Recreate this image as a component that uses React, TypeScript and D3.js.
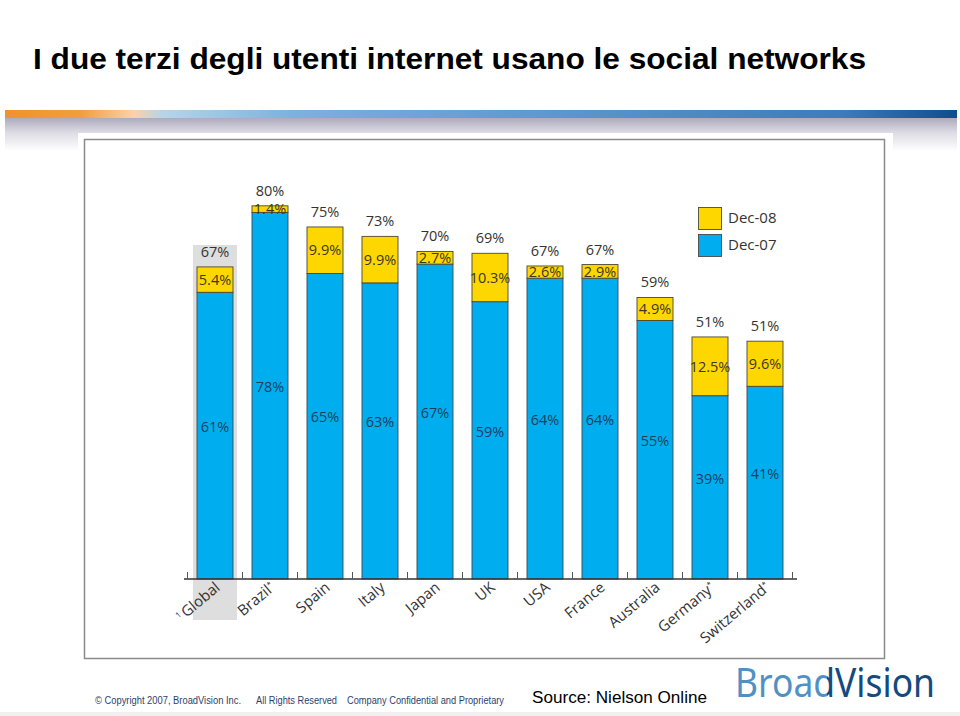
import React from "react";
import * as d3 from "d3";

const categories = ["Global", "Brazil", "Spain", "Italy", "Japan", "UK", "USA", "France", "Australia", "Germany", "Switzerland"];
const categoryLabels = ["Global", "Brazil", "Spain", "Italy", "Japan", "UK", "USA", "France", "Australia", "Germany", "Switzerland"];
const starred = [false, true, false, false, false, false, false, false, false, true, true];
const dec07 = [61, 78, 65, 63, 67, 59, 64, 64, 55, 39, 41];
const growth = [5.4, 1.4, 9.9, 9.9, 2.7, 10.3, 2.6, 2.9, 4.9, 12.5, 9.6];
const totals = [67, 80, 75, 73, 70, 69, 67, 67, 59, 51, 51];
const seriesNames = ["Dec-08", "Dec-07"];

const BLUE = "#00aeef";
const YELLOW = "#ffd700";
const LABEL_FONT = "'Open Sans', 'Noto Sans', sans-serif";
const ARIAL = "'Liberation Sans', Arial, sans-serif";

export default function App() {
  const x = d3
    .scaleBand<string>()
    .domain(categories)
    .range([187.5, 792.5])
    .paddingInner(19 / 55)
    .paddingOuter(19 / 110);
  const y = d3.scaleLinear().domain([0, 80]).range([579, 203]);
  const bw = x.bandwidth();
  const step = x.step();
  const fmt = (v: number) => `${v}%`;
  const boundaries = d3.range(categories.length + 1).map((i) => (x(categories[0]) as number) - (step - bw) / 2 + i * step);

  const globalX = x("Global") as number;

  return (
    <svg width={960} height={716} style={{ position: "absolute", left: 0, top: 0, background: "#fff" }}>
      <defs>
        <linearGradient id="band" x1="0" x2="1" y1="0" y2="0">
          <stop offset="0" stopColor="#f0922e" />
          <stop offset="0.08" stopColor="#f39d40" />
          <stop offset="0.135" stopColor="#fbd2a6" />
          <stop offset="0.165" stopColor="#b7d5ea" />
          <stop offset="0.3" stopColor="#7fb1db" />
          <stop offset="0.6" stopColor="#5896cc" />
          <stop offset="0.88" stopColor="#3c7bbd" />
          <stop offset="1" stopColor="#0c4d90" />
        </linearGradient>
        <linearGradient id="shade" x1="0" x2="0" y1="0" y2="1">
          <stop offset="0" stopColor="#aaa7ba" />
          <stop offset="0.45" stopColor="#dcdbe3" />
          <stop offset="1" stopColor="#ffffff" />
        </linearGradient>
        <linearGradient id="logo" gradientUnits="userSpaceOnUse" x1={735} x2={935} y1={0} y2={0}>
          <stop offset="0" stopColor="#4f90c6" />
          <stop offset="0.462" stopColor="#4f90c6" />
          <stop offset="0.462" stopColor="#15497f" />
          <stop offset="1" stopColor="#15497f" />
        </linearGradient>
      </defs>
      <rect x={0} y={0} width={960} height={716} fill="#fff" />

      {/* Title */}
      <text x={33} y={69} fontFamily={ARIAL} fontWeight="bold" fontSize={30} fill="#000" textLength={833} lengthAdjust="spacingAndGlyphs">
        I due terzi degli utenti internet usano le social networks
      </text>

      {/* Header band and shade */}
      <rect x={5} y={117} width={952} height={34} fill="url(#shade)" />
      <rect x={5} y={110} width={952} height={8} fill="url(#band)" />

      {/* Panel */}
      <rect x={78} y={133} width={815} height={530} fill="#fff" />
      <rect x={84.5} y={139.5} width={800} height={519} fill="#fff" stroke="#8a8a8a" strokeWidth={1.5} />

      {/* Global highlight box */}
      <rect x={globalX - 4} y={245} width={bw + 8} height={375} fill="#dedede" />

      {/* Bars */}
      {categories.map((c, i) => {
        const bx = x(c) as number;
        const top = dec07[i] + growth[i];
        return (
          <g key={c}>
            <rect x={bx} y={y(dec07[i])} width={bw} height={y(0) - y(dec07[i])} fill={BLUE} stroke="#3b4a55" strokeWidth={0.9} />
            <rect x={bx} y={y(top)} width={bw} height={y(dec07[i]) - y(top)} fill={YELLOW} stroke="#4a4630" strokeWidth={0.9} />
            <text x={bx + bw / 2} y={y(top) - 10} textAnchor="middle" fontFamily={LABEL_FONT} fontSize={14.5} fill="#333">
              {fmt(totals[i])}
            </text>
            <text x={bx + bw / 2} y={(y(top) + y(dec07[i])) / 2} dy="0.36em" textAnchor="middle" fontFamily={LABEL_FONT} fontSize={14.5} fill="#3b3620">
              {fmt(growth[i])}
            </text>
            <text x={bx + bw / 2} y={(y(dec07[i]) + y(0)) / 2 - 9} dy="0.36em" textAnchor="middle" fontFamily={LABEL_FONT} fontSize={14.5} fill="#1d3d5e">
              {fmt(dec07[i])}
            </text>
          </g>
        );
      })}

      {/* Axis */}
      <line x1={184} x2={797} y1={579} y2={579} stroke="#333" strokeWidth={1.5} />
      {boundaries.map((bx, i) => (
        <line key={i} x1={bx} x2={bx} y1={579} y2={572} stroke="#555" strokeWidth={1} />
      ))}
      {categories.map((c, i) => {
        const cx = (x(c) as number) + bw / 2 + 6;
        return (
          <text key={c} transform={`translate(${cx},589) rotate(-40)`} textAnchor="end" fontFamily={LABEL_FONT} fontSize={15} fill="#333">
            {i === 0 ? <tspan fontSize={8} dy={-5}>1 </tspan> : null}
            <tspan dy={i === 0 ? 5 : 0}>{categoryLabels[i]}</tspan>
            {starred[i] ? <tspan fontSize={8} dy={-5}>*</tspan> : null}
          </text>
        );
      })}

      {/* Legend */}
      {seriesNames.map((s, i) => (
        <g key={s}>
          <rect x={698.5} y={207.5 + i * 27} width={23} height={22} fill={i === 0 ? YELLOW : BLUE} stroke="#4a4a40" strokeWidth={0.9} />
          <text x={728} y={223 + i * 27} fontFamily={LABEL_FONT} fontSize={15} fill="#333">
            {s}
          </text>
        </g>
      ))}

      {/* Footer */}
      <text x={95} y={704} fontFamily={ARIAL} fontSize={10} fill="#2b3f6b" textLength={146} lengthAdjust="spacingAndGlyphs">
        © Copyright 2007, BroadVision Inc.
      </text>
      <text x={256} y={704} fontFamily={ARIAL} fontSize={10} fill="#2b3f6b" textLength={81} lengthAdjust="spacingAndGlyphs">
        All Rights Reserved
      </text>
      <text x={347} y={704} fontFamily={ARIAL} fontSize={10} fill="#2b3f6b" textLength={157} lengthAdjust="spacingAndGlyphs">
        Company Confidential and Proprietary
      </text>
      <text x={532} y={703} fontFamily={ARIAL} fontSize={16} fill="#000" textLength={175} lengthAdjust="spacingAndGlyphs">
        Source: Nielson Online
      </text>
      <text x={735} y={697} fontFamily="'Noto Sans', 'Open Sans', sans-serif" fontSize={40} fill="url(#logo)" textLength={200} lengthAdjust="spacingAndGlyphs">
        BroadVision
      </text>
      <rect x={0} y={712} width={960} height={4} fill="#f0f0f0" />
    </svg>
  );
}
